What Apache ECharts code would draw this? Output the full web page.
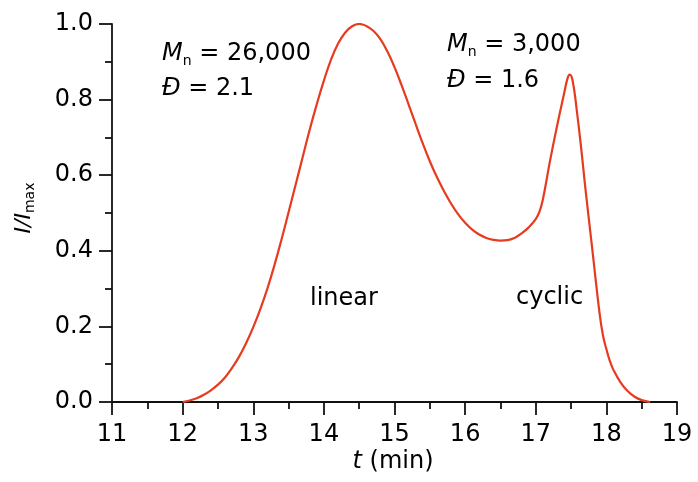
<!DOCTYPE html>
<html><head><meta charset="utf-8">
<script src="https://cdn.jsdelivr.net/npm/echarts@6/dist/echarts.min.js"></script>
<style>html,body{margin:0;padding:0;background:#fff}#c{width:698px;height:482px}</style>
</head><body><div id="c"></div>
<script>
// ---- data ----
const timeMin = [12.0, 12.1, 12.2, 12.3, 12.4, 12.5, 12.6, 12.7, 12.8, 12.9, 13.0, 13.1, 13.2, 13.3, 13.4, 13.5, 13.6, 13.7, 13.8, 13.9, 14.0, 14.1, 14.2, 14.3, 14.4, 14.5, 14.6, 14.7, 14.8, 14.9, 15.0, 15.1, 15.2, 15.3, 15.4, 15.5, 15.6, 15.7, 15.8, 15.9, 16.0, 16.1, 16.2, 16.3, 16.4, 16.5, 16.6, 16.7, 16.8, 16.9, 17.0, 17.05, 17.1, 17.2, 17.3, 17.4, 17.45, 17.48, 17.52, 17.58, 17.65, 17.7, 17.8, 17.9, 17.95, 18.0, 18.05, 18.1, 18.2, 18.3, 18.4, 18.5, 18.62];
const intensity = [0, 0.004, 0.010, 0.019, 0.031, 0.046, 0.065, 0.090, 0.120, 0.156, 0.198, 0.246, 0.300, 0.362, 0.430, 0.502, 0.575, 0.648, 0.721, 0.788, 0.850, 0.905, 0.948, 0.977, 0.994, 1.0, 0.995, 0.982, 0.960, 0.927, 0.886, 0.838, 0.787, 0.735, 0.684, 0.637, 0.595, 0.558, 0.525, 0.497, 0.474, 0.456, 0.443, 0.434, 0.429, 0.427, 0.428, 0.434, 0.446, 0.462, 0.484, 0.502, 0.535, 0.636, 0.729, 0.815, 0.856, 0.866, 0.852, 0.773, 0.660, 0.570, 0.405, 0.240, 0.178, 0.140, 0.108, 0.085, 0.052, 0.029, 0.014, 0.005, 0];
const xRange = [11, 19];
const yRange = [0, 1];

const FONT = 'DejaVu Sans';
const INK = '#111';
const RICH = {
  i: {font: 'italic 24px "DejaVu Sans"', lineHeight: 24, padding: [0, 0, 2, 0], verticalAlign: 'bottom', fill: '#000'},
  r: {font: '24px "DejaVu Sans"', lineHeight: 24, padding: [0, 0, 2, 0], verticalAlign: 'bottom', fill: '#000'},
  s: {font: '14px "DejaVu Sans"', lineHeight: 14, verticalAlign: 'bottom', fill: '#000'},
  yi: {font: 'italic 22px "DejaVu Sans"', lineHeight: 22, padding: [0, 0, 2, 0], verticalAlign: 'bottom', fill: '#000'}
};
function label(x, y, text, align, extra) {
  return Object.assign({
    type: 'text', x: x, y: y, silent: true,
    style: {text: text, rich: RICH, align: align || 'left', verticalAlign: 'top', fill: '#000', font: '24px "DejaVu Sans"'}
  }, extra || {});
}

const chart = echarts.init(document.getElementById('c'), null, {renderer: 'canvas'});
const axisCommon = {
  type: 'value',
  axisLine: {show: true, onZero: false, lineStyle: {color: INK, width: 1.8}},
  axisTick: {show: true, length: 13, lineStyle: {color: INK, width: 1.8}},
  minorTick: {show: true, splitNumber: 2, length: 7, lineStyle: {color: INK, width: 1.8}},
  splitLine: {show: false},
  minorSplitLine: {show: false}
};
chart.setOption({
  animation: false,
  grid: {left: 112, right: 21, top: 24, bottom: 80},
  xAxis: Object.assign({}, axisCommon, {
    min: xRange[0], max: xRange[1], interval: 1,
    axisLabel: {margin: 21, fontFamily: FONT, fontSize: 24, color: '#000'}
  }),
  yAxis: Object.assign({}, axisCommon, {
    min: yRange[0], max: yRange[1], interval: 0.2,
    axisLabel: {margin: 19, fontFamily: FONT, fontSize: 24, color: '#000', formatter: v => v.toFixed(1)}
  }),
  series: [{
    type: 'line',
    data: timeMin.map((t, i) => [t, intensity[i]]),
    showSymbol: false,
    smooth: 0.45,
    lineStyle: {color: '#e63b1f', width: 2.2},
    itemStyle: {color: '#e63b1f'}
  }],
  graphic: [
    label(162, 44, '{i|M}{s|n}{r| = 26,000}'),
    label(162, 79, '{i|Đ}{r| = 2.1}'),
    label(447, 35, '{i|M}{s|n}{r| = 3,000}'),
    label(447, 70.5, '{i|Đ}{r| = 1.6}'),
    label(310, 289, '{r|linear}'),
    label(516, 288, '{r|cyclic}'),
    label(393, 452, '{i|t}{r| (min)}', 'center'),
    label(15, 208, '{yi|I/I}{s|max}', 'center', {rotation: Math.PI / 2})
  ]
});
</script></body></html>
